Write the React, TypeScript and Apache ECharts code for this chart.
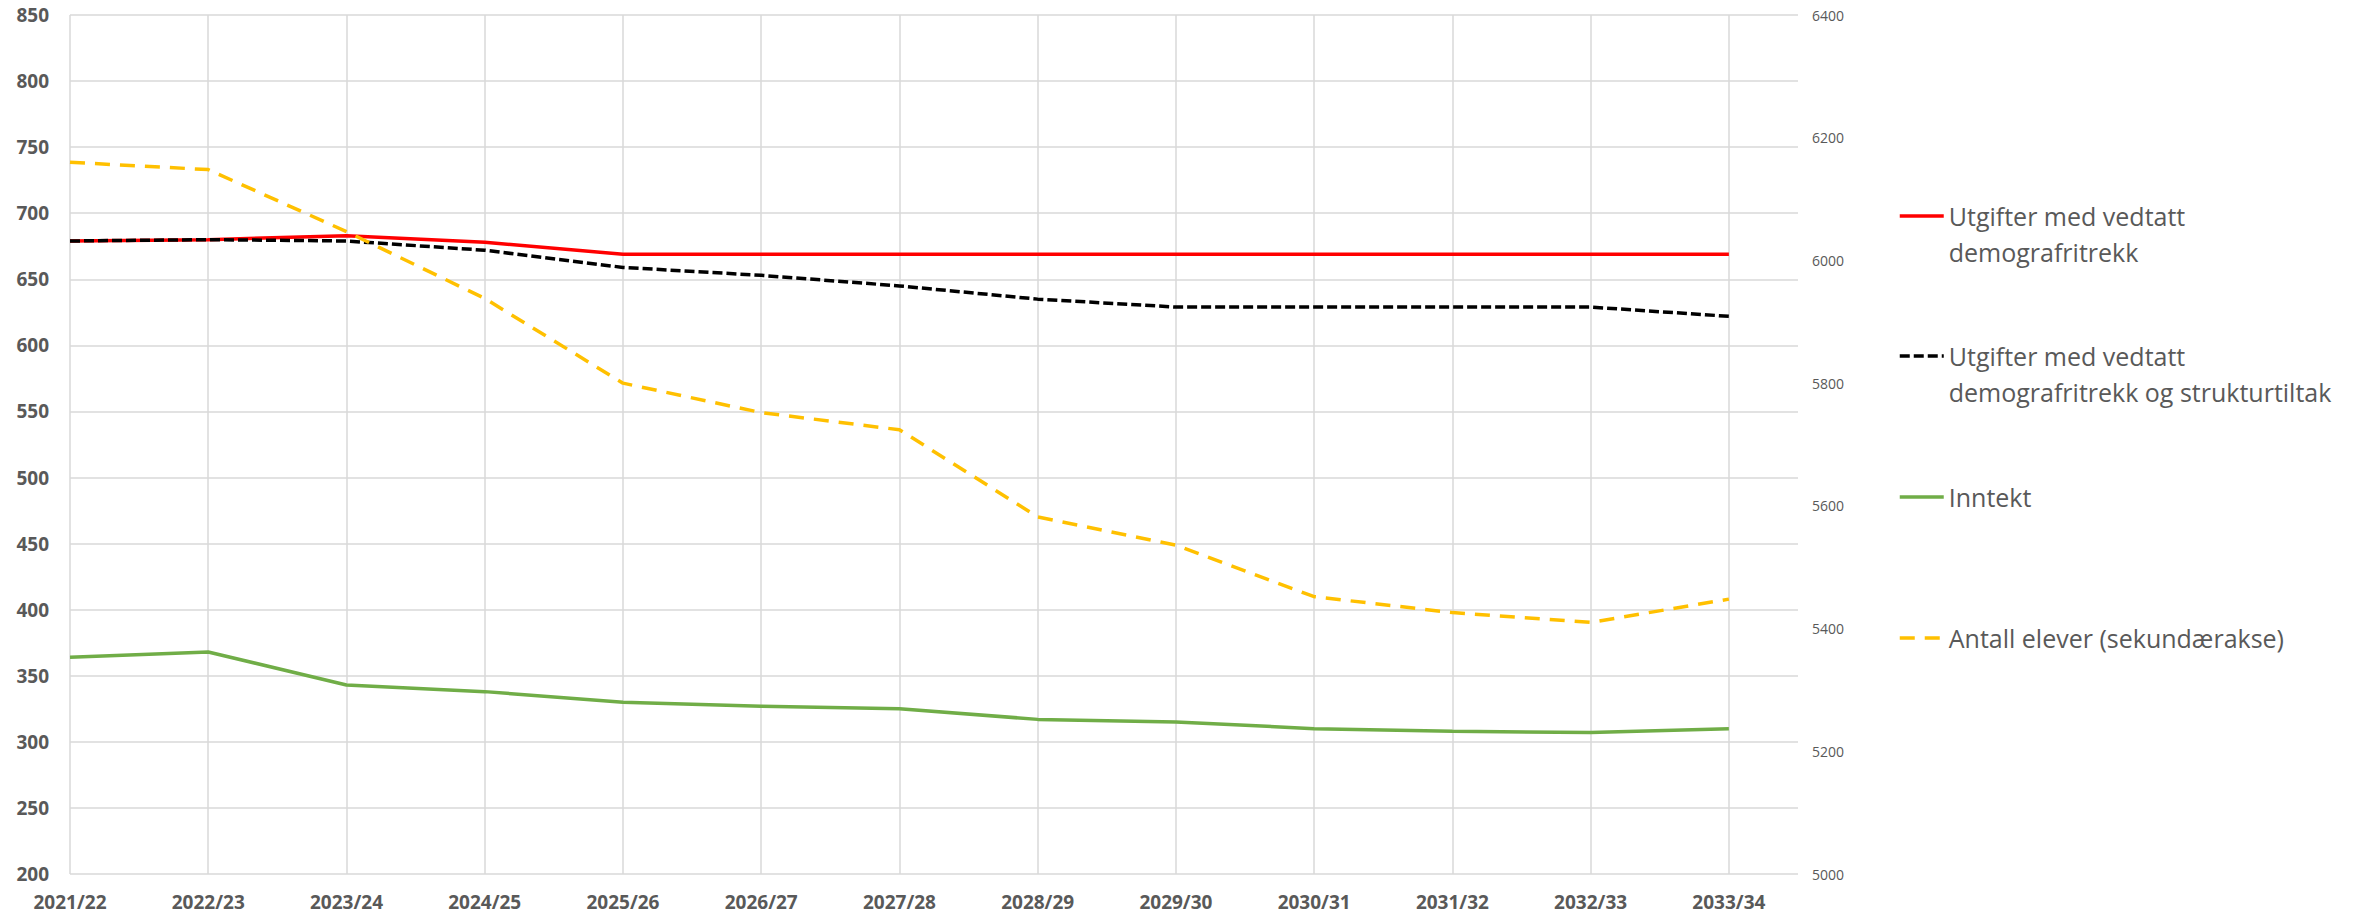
import React, { useEffect, useRef } from "react";
import * as echarts from "echarts";

const categories = [
  "2021/22", "2022/23", "2023/24", "2024/25", "2025/26", "2026/27", "2027/28",
  "2028/29", "2029/30", "2030/31", "2031/32", "2032/33", "2033/34",
];

const seriesNames = [
  "Utgifter med vedtatt demografritrekk",
  "Utgifter med vedtatt demografritrekk og strukturtiltak",
  "Inntekt",
  "Antall elever (sekundærakse)",
];

const legendLabels = [
  "\nUtgifter med vedtatt\ndemografritrekk",
  "\nUtgifter med vedtatt\ndemografritrekk og strukturtiltak",
  "Inntekt",
  "Antall elever (sekundærakse)",
];

const utgifterDemografi = [679, 680, 683, 678, 669, 669, 669, 669, 669, 669, 669, 669, 669];
const utgifterStruktur = [679, 680, 679, 672, 659, 653, 645, 635, 629, 629, 629, 629, 622];
const inntekt = [364, 368, 343, 338, 330, 327, 325, 317, 315, 310, 308, 307, 310];
const antallElever = [6160, 6148, 6047, 5938, 5800, 5752, 5724, 5582, 5536, 5452, 5426, 5410, 5448];

const leftAxis = { min: 200, max: 850, interval: 50 };
const rightAxis = { min: 5000, max: 6400, interval: 200 };

const FONT = "'Open Sans', 'Noto Sans', sans-serif";
const TEXT_COLOR = "#595959";
const GRID_COLOR = "#D9D9D9";

export default function App() {
  const ref = useRef<HTMLDivElement>(null);

  useEffect(() => {
    if (!ref.current) return;
    const chart = echarts.init(ref.current, undefined, { renderer: "svg" });
    const toPairs = (arr: number[]) => arr.map((v, i) => [i, v]);

    const labelFor = (name: string) => legendLabels[seriesNames.indexOf(name)] ?? name;

    const legendTops = [162, 302, 479, 620];
    const legends = seriesNames.map((name, i) => ({
      show: true,
      data: [name],
      left: 1898,
      top: legendTops[i],
      padding: 0,
      itemWidth: 44,
      itemHeight: 20,
      selectedMode: false,
      formatter: labelFor,
      itemStyle: { opacity: 0, color: "transparent", borderWidth: 0 },
      lineStyle: { width: 3.5 },
      textStyle: {
        fontFamily: FONT,
        fontSize: 25,
        lineHeight: 36,
        color: TEXT_COLOR,
      },
    }));

    const option: any = {
      animation: false,
      backgroundColor: "#ffffff",
      textStyle: { fontFamily: FONT },
      grid: {
        left: 70,
        top: 15,
        right: 571,
        bottom: 42,
        containLabel: false,
        outerBoundsMode: "none",
      },
      legend: legends,
      xAxis: {
        type: "value",
        min: 0,
        max: 12.5,
        interval: 1,
        axisLine: { show: false },
        axisTick: { show: false },
        axisLabel: {
          margin: 18,
          fontFamily: FONT,
          fontSize: 19,
          fontWeight: "bold",
          color: TEXT_COLOR,
          formatter: (v: number) => (Number.isInteger(v) && categories[v] ? categories[v] : ""),
        },
        splitLine: {
          show: true,
          showMinLine: true,
          showMaxLine: false,
          lineStyle: { color: GRID_COLOR, width: 1.5 },
        },
      },
      yAxis: [
        {
          type: "value",
          position: "left",
          min: leftAxis.min,
          max: leftAxis.max,
          interval: leftAxis.interval,
          axisLine: { show: false },
          axisTick: { show: false },
          axisLabel: {
            margin: 21,
            fontFamily: FONT,
            fontSize: 19,
            fontWeight: "bold",
            color: TEXT_COLOR,
          },
          splitLine: { show: true, lineStyle: { color: GRID_COLOR, width: 1.5 } },
        },
        {
          type: "value",
          position: "right",
          min: rightAxis.min,
          max: rightAxis.max,
          interval: rightAxis.interval,
          axisLine: { show: false },
          axisTick: { show: false },
          axisLabel: {
            margin: 14,
            fontFamily: FONT,
            fontSize: 14,
            color: TEXT_COLOR,
            formatter: (v: number) => String(v),
          },
          splitLine: { show: false },
        },
      ],
      series: [
        {
          name: seriesNames[0],
          type: "line",
          yAxisIndex: 0,
          data: toPairs(utgifterDemografi),
          symbol: "none",
          color: "#FF0000",
          lineStyle: { color: "#FF0000", width: 3.5 },
        },
        {
          name: seriesNames[1],
          type: "line",
          yAxisIndex: 0,
          data: toPairs(utgifterStruktur),
          symbol: "none",
          color: "#000000",
          lineStyle: { color: "#000000", width: 3.5, type: [10, 4] },
        },
        {
          name: seriesNames[2],
          type: "line",
          yAxisIndex: 0,
          data: toPairs(inntekt),
          symbol: "none",
          color: "#70AD47",
          lineStyle: { color: "#70AD47", width: 3.5 },
        },
        {
          name: seriesNames[3],
          type: "line",
          yAxisIndex: 1,
          data: toPairs(antallElever),
          symbol: "none",
          color: "#FFC000",
          lineStyle: { color: "#FFC000", width: 3.5, type: [15, 10] },
        },
      ],
    };

    chart.setOption(option);
    return () => chart.dispose();
  }, []);

  return (
    <div
      ref={ref}
      style={{ position: "fixed", left: 0, top: 0, width: 2369, height: 916, background: "#fff" }}
    />
  );
}
